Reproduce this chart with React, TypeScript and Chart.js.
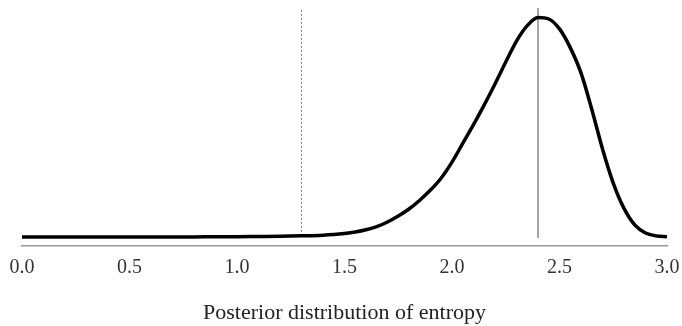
import React, { useEffect, useRef } from "react";
import { Chart, registerables } from "chart.js";

Chart.register(...registerables);

const entropyX = [0.0, 0.2, 0.4, 0.6, 0.8, 0.9, 1.0, 1.1, 1.2, 1.3, 1.4, 1.45, 1.5, 1.55, 1.6, 1.65, 1.7, 1.75, 1.8, 1.85, 1.9, 1.95, 2.0, 2.05, 2.1, 2.15, 2.2, 2.25, 2.3, 2.35, 2.4, 2.45, 2.5, 2.55, 2.6, 2.65, 2.7, 2.75, 2.8, 2.85, 2.9, 2.95, 3.0];
const densityY = [0, 0, 0, 0, 0, 0.001, 0.001, 0.002, 0.003, 0.005, 0.008, 0.011, 0.016, 0.023, 0.033, 0.047, 0.068, 0.095, 0.127, 0.167, 0.213, 0.268, 0.34, 0.425, 0.51, 0.6, 0.695, 0.795, 0.89, 0.96, 0.997, 0.99, 0.945, 0.86, 0.745, 0.58, 0.4, 0.245, 0.13, 0.055, 0.018, 0.005, 0.001];
const priorLineX = 1.3;
const posteriorModeX = 2.4;
const xTicks = [0, 0.5, 1.0, 1.5, 2.0, 2.5, 3.0];
const axisTitle = "Posterior distribution of entropy";

export default function App() {
  const ref = useRef<HTMLCanvasElement | null>(null);
  useEffect(() => {
    document.body.style.margin = "0";
    const canvas = ref.current;
    if (!canvas) return;
    const yTop = 1.04;
    const chart = new Chart(canvas, {
      type: "line",
      data: {
        datasets: [
          {
            data: entropyX.map((x, i) => ({ x, y: densityY[i] })),
            borderColor: "#000000",
            borderWidth: 3.5,
            pointRadius: 0,
            cubicInterpolationMode: "monotone",
            fill: false,
          },
          {
            data: [
              { x: priorLineX, y: 0.005 },
              { x: priorLineX, y: yTop },
            ],
            borderColor: "#777777",
            borderWidth: 1,
            borderDash: [2, 2],
            pointRadius: 0,
          },
          {
            data: [
              { x: posteriorModeX, y: -0.005 },
              { x: posteriorModeX, y: yTop },
            ],
            borderColor: "#888888",
            borderWidth: 1.5,
            pointRadius: 0,
          },
        ],
      },
      options: {
        animation: false,
        responsive: true,
        maintainAspectRatio: false,
        layout: { padding: { left: 22, right: 15, top: 8, bottom: 0 } },
        plugins: { legend: { display: false }, tooltip: { enabled: false } },
        scales: {
          x: {
            type: "linear",
            min: 0,
            max: 3,
            afterBuildTicks: (scale: any) => {
              scale.ticks = xTicks.map((v) => ({ value: v }));
            },
            afterFit: (scale: any) => {
              scale.paddingLeft = 0;
              scale.paddingRight = 0;
            },
            ticks: {
              color: "#333333",
              font: { family: "Liberation Serif", size: 20 },
              padding: 10,
              maxRotation: 0,
              callback: (v: any) => Number(v).toFixed(1),
            },
            grid: { display: false, drawTicks: false },
            border: { display: true, color: "#9a9a9a", width: 1.5 },
            title: {
              display: true,
              text: axisTitle,
              color: "#222222",
              font: { family: "Liberation Serif", size: 22 },
              padding: { top: 9.6, bottom: 0 },
            },
          },
          y: {
            type: "linear",
            min: -0.041,
            max: yTop,
            display: false,
          },
        },
      },
    });
    return () => chart.destroy();
  }, []);
  return (
    <div style={{ position: "relative", width: 682, height: 326 }}>
      <canvas ref={ref} />
    </div>
  );
}
